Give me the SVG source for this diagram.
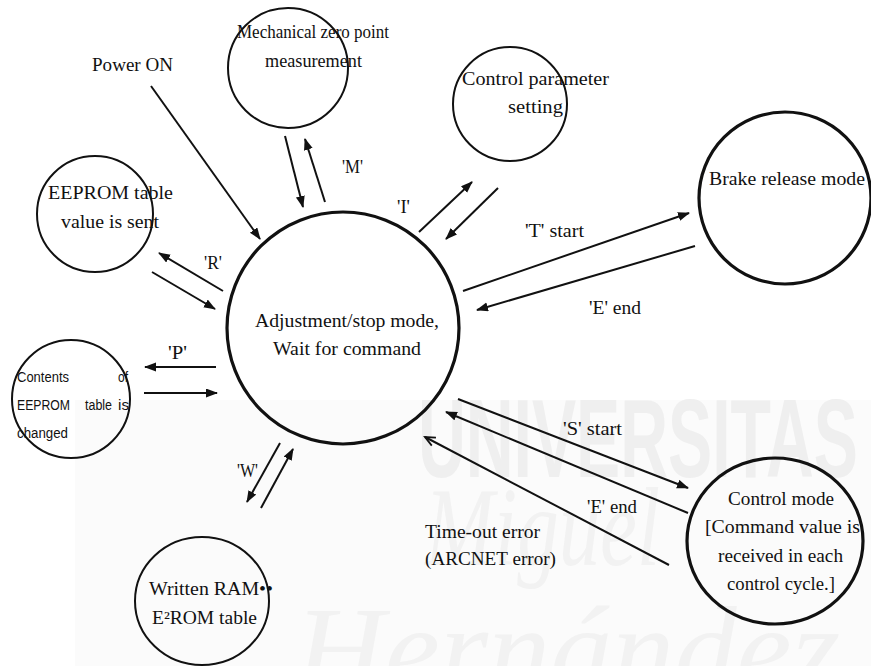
<svg xmlns="http://www.w3.org/2000/svg" width="871" height="666" viewBox="0 0 871 666">
  <style>
    .node { fill: none; stroke: #111; stroke-width: 2; }
    .node.bold { stroke-width: 3.2; }
    .lbl { font-family: "Liberation Serif", "DejaVu Serif", serif; font-size: 18px; fill: #111; }
    .big { font-size: 19px; }
    .sans { font-family: "Liberation Sans", Arial, sans-serif; font-size: 14px; fill: #111; }
    .edge { stroke: #111; stroke-width: 2; fill: none; }
    .wm { font-family: "Liberation Sans", Arial, sans-serif; font-weight: bold; fill: #efefef; }
    .wm2 { font-family: "Liberation Serif", serif; font-style: italic; fill: #f2f2f2; }
  </style>
  <defs>
    <marker id="head" markerUnits="userSpaceOnUse" markerWidth="13" markerHeight="10" refX="11" refY="4.5" orient="auto">
      <path d="M0,0 L12,4.5 L0,9 z" fill="#111"/>
    </marker>
    <marker id="openhead" markerUnits="userSpaceOnUse" markerWidth="14" markerHeight="12" refX="11" refY="5.5" orient="auto">
      <path d="M1,1 L11,5.5 L1,10" fill="none" stroke="#111" stroke-width="1.8"/>
    </marker>
  </defs>

  <rect width="871" height="666" fill="#fff"/>

  <!-- faint background lettering -->
  <g id="background-mark">
    <rect x="75" y="400" width="796" height="266" fill="#fbfbfb"/>
    <text class="wm" x="418" y="477" font-size="112" textLength="440" lengthAdjust="spacingAndGlyphs">UNIVERSITAS</text>
    <text class="wm2" x="425" y="565" font-size="112" textLength="235" lengthAdjust="spacingAndGlyphs">Miguel</text>
    <text class="wm2" x="295" y="690" font-size="120" textLength="545" lengthAdjust="spacingAndGlyphs">Hernández</text>
  </g>

  <!-- connectors -->
  <g id="connectors">
    <line class="edge" x1="151" y1="86" x2="260" y2="239" marker-end="url(#head)"/>
    <line class="edge" x1="285" y1="136" x2="303" y2="207" marker-end="url(#head)"/>
    <line class="edge" x1="325" y1="202" x2="305" y2="139" marker-end="url(#head)"/>
    <line class="edge" x1="419" y1="232" x2="472" y2="182" marker-end="url(#head)"/>
    <line class="edge" x1="498" y1="188" x2="446" y2="239" marker-end="url(#head)"/>
    <line class="edge" x1="463" y1="291" x2="689" y2="213" marker-end="url(#head)"/>
    <line class="edge" x1="695" y1="246" x2="477" y2="310" marker-end="url(#head)"/>
    <line class="edge" x1="223" y1="291" x2="159" y2="253" marker-end="url(#head)"/>
    <line class="edge" x1="152" y1="272" x2="215" y2="309" marker-end="url(#head)"/>
    <line class="edge" x1="216" y1="367" x2="145" y2="367" marker-end="url(#head)"/>
    <line class="edge" x1="144" y1="393" x2="217" y2="393" marker-end="url(#head)"/>
    <line class="edge" x1="280" y1="443" x2="247" y2="502" marker-end="url(#head)"/>
    <line class="edge" x1="261" y1="508" x2="293" y2="449" marker-end="url(#head)"/>
    <line class="edge" x1="458" y1="399" x2="688" y2="488" marker-end="url(#head)"/>
    <line class="edge" x1="688" y1="513" x2="446" y2="412" marker-end="url(#head)"/>
    <line class="edge" x1="669" y1="565" x2="425" y2="437" marker-end="url(#openhead)"/>

    <text class="lbl" x="92" y="71" textLength="81" lengthAdjust="spacingAndGlyphs">Power ON</text>
    <text class="lbl" x="342" y="173" textLength="21" lengthAdjust="spacingAndGlyphs">'M'</text>
    <text class="lbl" x="397" y="213" textLength="13" lengthAdjust="spacingAndGlyphs">'I'</text>
    <text class="lbl" x="525" y="237" textLength="59" lengthAdjust="spacingAndGlyphs">'T' start</text>
    <text class="lbl" x="589" y="314" textLength="52" lengthAdjust="spacingAndGlyphs">'E' end</text>
    <text class="lbl" x="204" y="269" textLength="18" lengthAdjust="spacingAndGlyphs">'R'</text>
    <text class="lbl" x="168" y="359" textLength="19" lengthAdjust="spacingAndGlyphs">'P'</text>
    <text class="lbl" x="237" y="477" textLength="21" lengthAdjust="spacingAndGlyphs">'W'</text>
    <text class="lbl" x="563" y="435" textLength="59" lengthAdjust="spacingAndGlyphs">'S' start</text>
    <text class="lbl" x="587" y="513" textLength="50" lengthAdjust="spacingAndGlyphs">'E' end</text>
    <text class="lbl" x="425" y="538" textLength="115" lengthAdjust="spacingAndGlyphs">Time-out error</text>
    <text class="lbl" x="425" y="565" textLength="131" lengthAdjust="spacingAndGlyphs">(ARCNET error)</text>
  </g>

  <!-- states -->
  <g id="adjustment-stop">
    <circle class="node bold" cx="343" cy="328" r="116"/>
    <text class="lbl big" x="255" y="327" textLength="184" lengthAdjust="spacingAndGlyphs">Adjustment/stop mode,</text>
    <text class="lbl big" x="273" y="355" textLength="148" lengthAdjust="spacingAndGlyphs">Wait for command</text>
  </g>

  <g id="zero-point">
    <circle class="node" cx="288" cy="68" r="60"/>
    <text class="lbl" x="237" y="38" textLength="152" lengthAdjust="spacingAndGlyphs">Mechanical zero point</text>
    <text class="lbl" x="265" y="67" textLength="97" lengthAdjust="spacingAndGlyphs">measurement</text>
  </g>

  <g id="table-sent">
    <circle class="node" cx="95" cy="214" r="58"/>
    <text class="lbl" x="48" y="199" textLength="125" lengthAdjust="spacingAndGlyphs">EEPROM table</text>
    <text class="lbl" x="61" y="228" textLength="98" lengthAdjust="spacingAndGlyphs">value is sent</text>
  </g>

  <g id="parameter-setting">
    <circle class="node" cx="510" cy="104" r="57"/>
    <text class="lbl" x="462" y="85" textLength="147" lengthAdjust="spacingAndGlyphs">Control parameter</text>
    <text class="lbl" x="508" y="113" textLength="55" lengthAdjust="spacingAndGlyphs">setting</text>
  </g>

  <g id="brake-release">
    <circle class="node bold" cx="785" cy="198" r="86"/>
    <text class="lbl" x="709" y="185" textLength="156" lengthAdjust="spacingAndGlyphs">Brake release mode</text>
  </g>

  <g id="table-changed">
    <circle class="node" cx="71" cy="399" r="59"/>
    <text class="sans" x="17" y="382" textLength="52" lengthAdjust="spacingAndGlyphs">Contents</text>
    <text class="sans" x="118" y="382" textLength="10" lengthAdjust="spacingAndGlyphs">of</text>
    <text class="sans" x="17" y="410" textLength="53" lengthAdjust="spacingAndGlyphs">EEPROM</text>
    <text class="sans" x="85" y="410" textLength="27" lengthAdjust="spacingAndGlyphs">table</text>
    <text class="sans" x="118" y="410" textLength="11" lengthAdjust="spacingAndGlyphs">is</text>
    <text class="sans" x="17" y="438" textLength="51" lengthAdjust="spacingAndGlyphs">changed</text>
  </g>

  <g id="written-table">
    <ellipse class="node" cx="202" cy="601" rx="67" ry="64"/>
    <text class="lbl" x="149" y="595" textLength="124" lengthAdjust="spacingAndGlyphs">Written RAM••</text>
    <text class="lbl" x="152" y="624" textLength="105" lengthAdjust="spacingAndGlyphs">E²ROM table</text>
  </g>

  <g id="control-mode">
    <ellipse class="node bold" cx="775" cy="541" rx="88" ry="83"/>
    <text class="lbl" x="728" y="505" textLength="106" lengthAdjust="spacingAndGlyphs">Control mode</text>
    <text class="lbl" x="705" y="533" textLength="155" lengthAdjust="spacingAndGlyphs">[Command value is</text>
    <text class="lbl" x="718" y="562" textLength="125" lengthAdjust="spacingAndGlyphs">received in each</text>
    <text class="lbl" x="727" y="590" textLength="108" lengthAdjust="spacingAndGlyphs">control cycle.]</text>
  </g>
</svg>
